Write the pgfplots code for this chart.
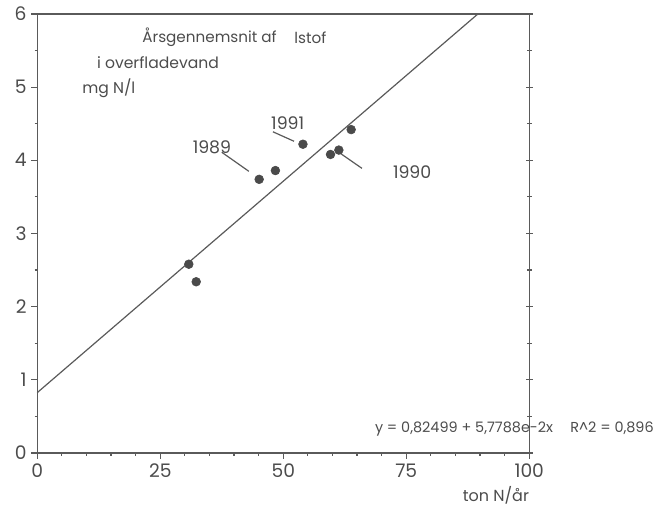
\documentclass[border=0pt]{standalone}
\usepackage{fontspec}
\setmainfont{Poppins}
\usepackage{pgfplots}
\pgfplotsset{compat=1.18}
\definecolor{txt}{HTML}{4C4C4C}
\definecolor{axc}{HTML}{5A5A5A}
\definecolor{dot}{HTML}{4A4A4A}
\begin{document}
\begin{tikzpicture}
\begin{axis}[
  scale only axis,
  width=369pt, height=329.25pt,
  xmin=0, xmax=100, ymin=0, ymax=6,
  xtick={0,25,50,75,100},
  ytick={0,1,2,3,4,5,6},
  minor x tick num=4,
  minor y tick num=1,
  xtick pos=bottom, ytick pos=left,
  tick align=outside,
  major tick length=4.5pt, minor tick length=2pt,
  every tick/.style={axc, line width=0.9pt},
  axis line style={axc, line width=1.1pt},
  ticklabel style={font=\fontsize{14}{16}\selectfont, text=txt},
  /pgf/number format/assume math mode=true,
  clip=false,
]
\path (rel axis cs:-0.0758,-0.1207) rectangle (rel axis cs:1.278,1.0319);
\addplot[only marks, mark=*, mark size=3.3pt, color=dot] coordinates {
  (30.8,2.58) (32.3,2.34) (45.1,3.74) (48.4,3.86) (54.0,4.22) (59.6,4.08) (61.3,4.14) (63.8,4.42)
};
\addplot[no marks, color=axc, line width=0.9pt] coordinates {(0,0.82499) (89.55,6)};
\draw[axc, line width=0.9pt] (axis cs:37.5,4.11) -- (axis cs:43.0,3.85);
\draw[axc, line width=0.9pt] (axis cs:47.9,4.39) -- (axis cs:52.2,4.26);
\draw[axc, line width=0.9pt] (axis cs:61.5,4.10) -- (axis cs:66.0,3.89);
\node[text=txt, font=\fontsize{13}{15}\selectfont] at (axis cs:35.5,4.18) {1989};
\node[text=txt, font=\fontsize{13}{15}\selectfont] at (axis cs:50.9,4.51) {1991};
\node[text=txt, font=\fontsize{13}{15}\selectfont] at (axis cs:76.2,3.84) {1990};
\node[text=txt, anchor=west, inner sep=0pt, font=\fontsize{11.4}{14}\selectfont] at (axis cs:21.3,5.68) {Årsgennemsnit af};
\node[text=txt, anchor=west, inner sep=0pt, font=\fontsize{11.4}{14}\selectfont] at (axis cs:52.2,5.68) {lstof};
\node[text=txt, anchor=west, inner sep=0pt, font=\fontsize{11.7}{14}\selectfont] at (axis cs:12.1,5.34) {i overfladevand};
\node[text=txt, anchor=west, inner sep=0pt, font=\fontsize{11.7}{14}\selectfont] at (axis cs:9.1,4.99) {mg N/l};
\node[text=txt, anchor=west, inner sep=0pt, font=\fontsize{10.8}{13}\selectfont] at (axis cs:68.6,0.33) {y = 0,82499 + 5,7788e-2x\hspace{1.2em}R\^{}2 = 0,896};
\node[text=txt, anchor=east, inner sep=0pt, font=\fontsize{12}{14}\selectfont] at (axis cs:100,-0.58) {ton N/år};
\end{axis}
\begin{axis}[
  scale only axis,
  width=369pt, height=329.25pt,
  xmin=0, xmax=100, ymin=0, ymax=6,
  xtick=\empty,
  ytick={0,1,2,3,4,5,6}, yticklabels={},
  minor y tick num=1,
  ytick pos=right,
  tick align=center,
  major tick length=5pt, minor tick length=4pt,
  every tick/.style={axc, line width=0.9pt},
  axis line style={draw=none},
]
\end{axis}
\end{tikzpicture}
\end{document}
